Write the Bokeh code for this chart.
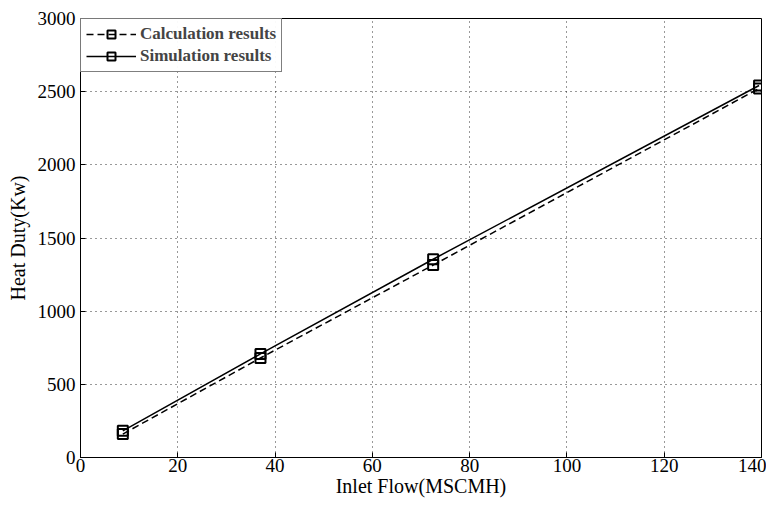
from bokeh.plotting import figure
from bokeh.models import Range1d, Legend, LegendItem, FixedTicker
from bokeh.embed import file_html
from bokeh.resources import INLINE

inlet_flow = [8.7, 37, 72.5, 139.5]
calc_results = [160, 680, 1315, 2522]
sim_results = [182, 708, 1355, 2542]

FONT = "Liberation Serif"

p = figure(width=766, height=499, output_backend="svg", toolbar_location=None,
           x_range=Range1d(0, 140), y_range=Range1d(0, 3000),
           min_border_left=80, min_border_right=5, min_border_top=18, min_border_bottom=41)
p.background_fill_color = "white"
p.border_fill_color = "white"
p.outline_line_color = "black"
p.outline_line_width = 1

p.xaxis.ticker = FixedTicker(ticks=list(range(0, 141, 20)))
p.yaxis.ticker = FixedTicker(ticks=list(range(0, 3001, 500)))
for ax in (p.xaxis[0], p.yaxis[0]):
    ax.major_tick_in = 5
    ax.major_tick_out = 0
    ax.minor_tick_in = 0
    ax.minor_tick_out = 0
    ax.axis_line_color = "black"
    ax.major_tick_line_color = "black"
    ax.major_label_text_font = FONT
    ax.major_label_text_font_size = "19px"
    ax.major_label_text_color = "black"
    ax.axis_label_text_font = FONT
    ax.axis_label_text_font_size = "20px"
    ax.axis_label_text_font_style = "normal"
    ax.axis_label_text_color = "black"
p.xaxis.axis_label = "Inlet Flow(MSCMH)"
p.yaxis.axis_label = "Heat Duty(Kw)"
p.xaxis.axis_label_standoff = 0
p.yaxis.axis_label_standoff = 6
p.xaxis.major_label_standoff = 1
p.yaxis.major_label_standoff = 5

p.grid.grid_line_color = "black"
p.grid.grid_line_alpha = 0.8
p.grid.grid_line_dash = "1 4"
p.grid.grid_line_width = 1

l1 = p.line(inlet_flow, calc_results, line_color="black", line_width=1.5, line_dash="7 4")
s1 = p.scatter(inlet_flow, calc_results, marker="square", size=10, fill_color=None,
               line_color="black", line_width=2)
l2 = p.line(inlet_flow, sim_results, line_color="black", line_width=1.5)
s2 = p.scatter(inlet_flow, sim_results, marker="square", size=10, fill_color=None,
               line_color="black", line_width=2)

legend = Legend(items=[LegendItem(label="Calculation results", renderers=[l1, s1]),
                       LegendItem(label="Simulation results", renderers=[l2, s2])],
                location="top_left")
legend.margin = 0
legend.padding = 5
legend.spacing = 2
legend.glyph_width = 50
legend.label_text_font = FONT
legend.label_text_font_style = "bold"
legend.label_text_font_size = "17px"
legend.border_line_color = "black"
legend.border_line_width = 1
legend.label_standoff = 4
p.add_layout(legend)

open("out.html", "w").write(file_html(p, INLINE))
